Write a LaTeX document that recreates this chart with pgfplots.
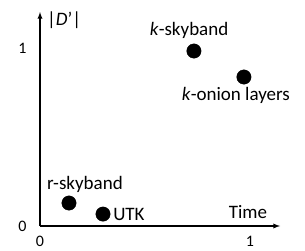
\documentclass[border=0pt]{standalone}
\usepackage{pgfplots}
\pgfplotsset{compat=1.18}
\usepackage{fontspec}
\setmainfont{Carlito}
\begin{document}
\fontsize{19}{22}\selectfont
\begin{tikzpicture}
\useasboundingbox (-40pt,-24pt) rectangle (265pt,226pt);
\begin{axis}[
  anchor=origin, x=210pt, y=178pt,
  xmin=0, xmax=1.143, ymin=0, ymax=1.202,
  axis lines=left,
  axis line style={line width=1.3pt, -latex},
  xtick={0,1}, ytick={0,1},
  major tick length=0pt,
  tick label style={font=\fontsize{16}{18}\selectfont},
  xticklabel style={yshift=-4pt},
  yticklabel style={xshift=-7pt},
  /pgf/number format/assume math mode=true,
  clip=false]
\addplot[only marks, mark=*, mark size=7.2pt, black] coordinates {
  (0.733,0.983) (0.971,0.837) (0.138,0.129) (0.300,0.067)};
\node at (axis cs:0.710,1.100) {\textit{k}-skyband};
\node at (axis cs:0.933,0.736) {\textit{k}-onion layers};
\node at (axis cs:0.214,0.236) {r-skyband};
\node[anchor=west, inner sep=0pt] at (axis cs:0.348,0.062) {UTK};
\node at (axis cs:0.990,0.079) {Time};
\node[anchor=west, inner sep=0pt] at (axis cs:0.033,1.157) {|\textit{D}'|};
\end{axis}
\end{tikzpicture}
\end{document}
